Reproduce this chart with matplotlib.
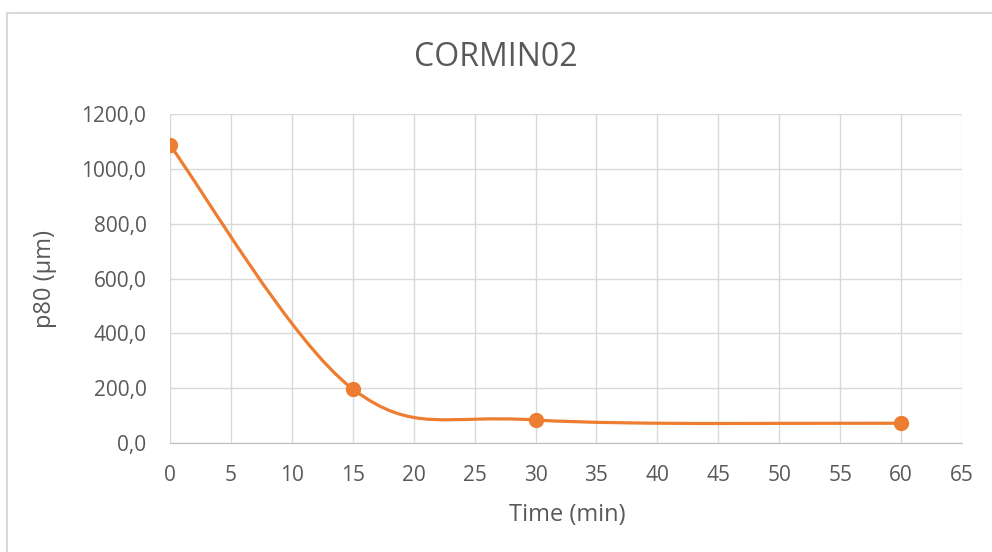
import numpy as np
import matplotlib
matplotlib.use("Agg")
import matplotlib.pyplot as plt
from matplotlib.path import Path
from matplotlib.patches import PathPatch, Rectangle

time_min = [0, 15, 30, 60]
p80_um = [1086.0, 197.0, 84.0, 72.0]
title = "CORMIN02"
xlabel = "Time (min)"
ylabel = "p80 (µm)"
xticks = list(range(0, 70, 5))
yticks = [0, 200, 400, 600, 800, 1000, 1200]

plt.rcParams['font.family'] = ['Open Sans', 'DejaVu Sans']
grey = '#595959'
orange = '#ED7D31'
gridc = '#D9D9D9'

fig = plt.figure(figsize=(9.92, 5.52), dpi=100)
ax = fig.add_axes([170/992, 1-443/552, 792/992, 329/552])

# Excel-like smoothed line (Catmull-Rom Bezier)
pts = np.column_stack([time_min, p80_um])
n = len(pts)
verts = [tuple(pts[0])]
codes = [Path.MOVETO]
for i in range(n-1):
    p0 = pts[i-1] if i > 0 else pts[i]
    p1 = pts[i]
    p2 = pts[i+1]
    p3 = pts[i+2] if i+2 < n else pts[i+1]
    c1 = p1 + (p2 - p0) / 6
    c2 = p2 - (p3 - p1) / 6
    verts += [tuple(c1), tuple(c2), tuple(p2)]
    codes += [Path.CURVE4]*3
patch = PathPatch(Path(verts, codes), facecolor='none', edgecolor=orange, lw=2.3,
                  capstyle='round', joinstyle='round', zorder=3)
ax.add_patch(patch)
ax.plot(time_min, p80_um, 'o', color=orange, markersize=10, zorder=4)

ax.set_xlim(0, 65)
ax.set_ylim(0, 1200)
ax.set_xticks(xticks)
ax.set_yticks(yticks)
ax.set_yticklabels([f"{v:.1f}".replace('.', ',') for v in yticks])
ax.grid(True, color=gridc, lw=1)
ax.set_axisbelow(True)
for s in ['top', 'right', 'left']:
    ax.spines[s].set_visible(False)
ax.spines['bottom'].set_color('#BFBFBF')
ax.tick_params(length=0, labelsize=15, colors=grey)
ax.tick_params(axis='y', pad=17)
ax.tick_params(axis='x', pad=16)
ax.set_xlabel(xlabel, fontsize=17, color=grey)
ax.set_ylabel(ylabel, fontsize=17, color=grey)
ax.xaxis.set_label_coords((567-170)/792, (443-515)/329)
ax.yaxis.set_label_coords((45-170)/792, 0.5)
ax.xaxis.label.set_va('center')
ax.yaxis.label.set_va('center')
fig.text(0.5, 1-58/552, title, ha='center', va='center', fontsize=23, color=grey)

fig.patches.append(Rectangle((7/992, -0.1), 1.1, 1.1 - 13/552,
                             transform=fig.transFigure, fill=False,
                             edgecolor=gridc, lw=1.5))
fig.savefig("out.png", dpi=100, facecolor='white')
